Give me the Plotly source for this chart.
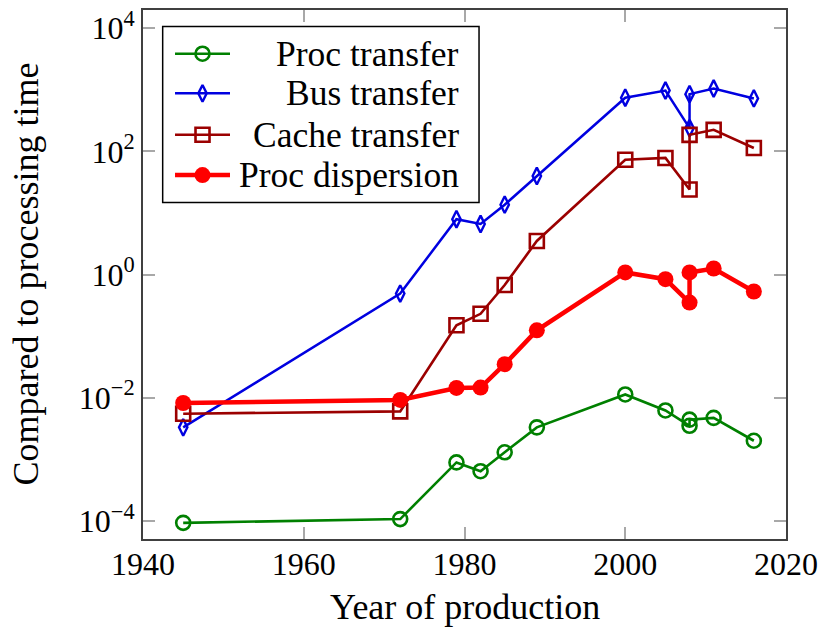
import plotly.graph_objects as go

# ---------------- data ----------------
years = [1945, 1972, 1979, 1982, 1985, 1989, 2000, 2005, 2008, 2008, 2011, 2016]
proc_transfer = [9.3e-5, 1.07e-4, 8.9e-4, 6.4e-4, 1.3e-3, 3.3e-3, 1.13e-2, 6.2e-3, 3.5e-3, 4.4e-3, 4.7e-3, 2.0e-3]
bus_transfer = [3.3e-3, 0.49, 7.9, 6.6, 13.6, 39.7, 741, 970, 238, 847, 1045, 722]
cache_transfer = [5.5e-3, 6.0e-3, 0.15, 0.23, 0.675, 3.5, 73, 78, 24, 185, 223, 113]
proc_dispersion = [8.2e-3, 9.2e-3, 0.0144, 0.0146, 0.035, 0.124, 1.08, 0.84, 0.35, 1.08, 1.25, 0.53]

series_names = ["Proc transfer", "Bus transfer", "Cache transfer", "Proc dispersion"]
x_ticks = [1940, 1960, 1980, 2000, 2020]
y_ticks = [1e-4, 1e-2, 1, 1e2, 1e4]
y_tick_text = ["10<sup>\u22124</sup>", "10<sup>\u22122</sup>", "10<sup>0</sup>", "10<sup>2</sup>", "10<sup>4</sup>"]
x_title = "Year of production"
y_title = "Compared to processing time"

# ---------------- styles ----------------
FONT = "Liberation Serif"
styles = [
    dict(color="#008000", lw=2.6, symbol="circle-open", size=14, mlw=2.6),
    dict(color="#0000e0", lw=2.5, symbol="diamond-tall-open", size=12, mlw=2.4),
    dict(color="#9b0000", lw=2.6, symbol="square-open", size=14, mlw=2.6),
    dict(color="#ff0000", lw=4.5, symbol="circle", size=16, mlw=0),
]
all_series = [proc_transfer, bus_transfer, cache_transfer, proc_dispersion]

fig = go.Figure()
for name, vals, st in zip(series_names, all_series, styles):
    fig.add_trace(go.Scatter(
        x=years, y=vals, name=name, mode="lines+markers", showlegend=False,
        line=dict(color=st["color"], width=st["lw"]),
        marker=dict(symbol=st["symbol"], size=st["size"], color=st["color"],
                    line=dict(color=st["color"], width=st["mlw"])),
    ))

# ---------------- custom legend (pgfplots style, right-aligned text) ----------------
leg_rows = [0.9174, 0.8424, 0.7642, 0.688]
lx0, lx1 = 0.0498, 0.1353
for name, st, yy in zip(series_names, styles, leg_rows):
    fig.add_trace(go.Scatter(
        x=[lx0, lx1], y=[yy, yy], mode="lines", xaxis="x2", yaxis="y2", showlegend=False,
        line=dict(color=st["color"], width=st["lw"]), hoverinfo="skip"))
    fig.add_trace(go.Scatter(
        x=[(lx0 + lx1) / 2], y=[yy], mode="markers", xaxis="x2", yaxis="y2", showlegend=False,
        marker=dict(symbol=st["symbol"], size=st["size"], color=st["color"],
                    line=dict(color=st["color"], width=st["mlw"])), hoverinfo="skip"))
    fig.add_annotation(text=name, x=0.4946, y=yy, xref="paper", yref="paper",
                       xanchor="right", yanchor="middle", showarrow=False,
                       font=dict(family=FONT, size=35.5, color="black"))

fig.add_shape(type="rect", xref="paper", yref="paper", x0=0.0306, x1=0.5226, y0=0.636, y1=0.9687,
              line=dict(color="black", width=1.5), layer="below")

# axis titles
fig.add_annotation(text=x_title, x=0.5, y=-0.1276, xref="paper", yref="paper",
                   xanchor="center", yanchor="middle", showarrow=False,
                   font=dict(family=FONT, size=36, color="black"))
fig.add_annotation(text=y_title, x=-0.1835, y=0.5, xref="paper", yref="paper",
                   xanchor="center", yanchor="middle", showarrow=False, textangle=-90,
                   font=dict(family=FONT, size=36, color="black"))

axis_common = dict(showgrid=False, zeroline=False, showline=True, linecolor="#404040", linewidth=2,
                   mirror="allticks", ticks="inside", ticklen=12, tickwidth=1.5, tickcolor="#a8a8a8",
                   tickfont=dict(family=FONT, size=32, color="black"))

fig.update_layout(
    width=830, height=636,
    margin=dict(l=143, r=44, t=6, b=97),
    paper_bgcolor="white", plot_bgcolor="white",
    font=dict(family=FONT, color="black"),
    xaxis=dict(range=[1940, 2020], tickvals=x_ticks, ticklabelstandoff=-4, **axis_common),
    yaxis=dict(type="log", range=[-4.294, 4.294], tickvals=y_ticks, ticktext=y_tick_text,
               ticklabelstandoff=0, **axis_common),
    xaxis2=dict(overlaying="x", range=[0, 1], visible=False, anchor="y2"),
    yaxis2=dict(overlaying="y", range=[0, 1], visible=False, anchor="x2"),
    showlegend=False,
)

fig.write_html("out.html", config={"displayModeBar": False},
               post_script="document.body.style.margin='0px';")
